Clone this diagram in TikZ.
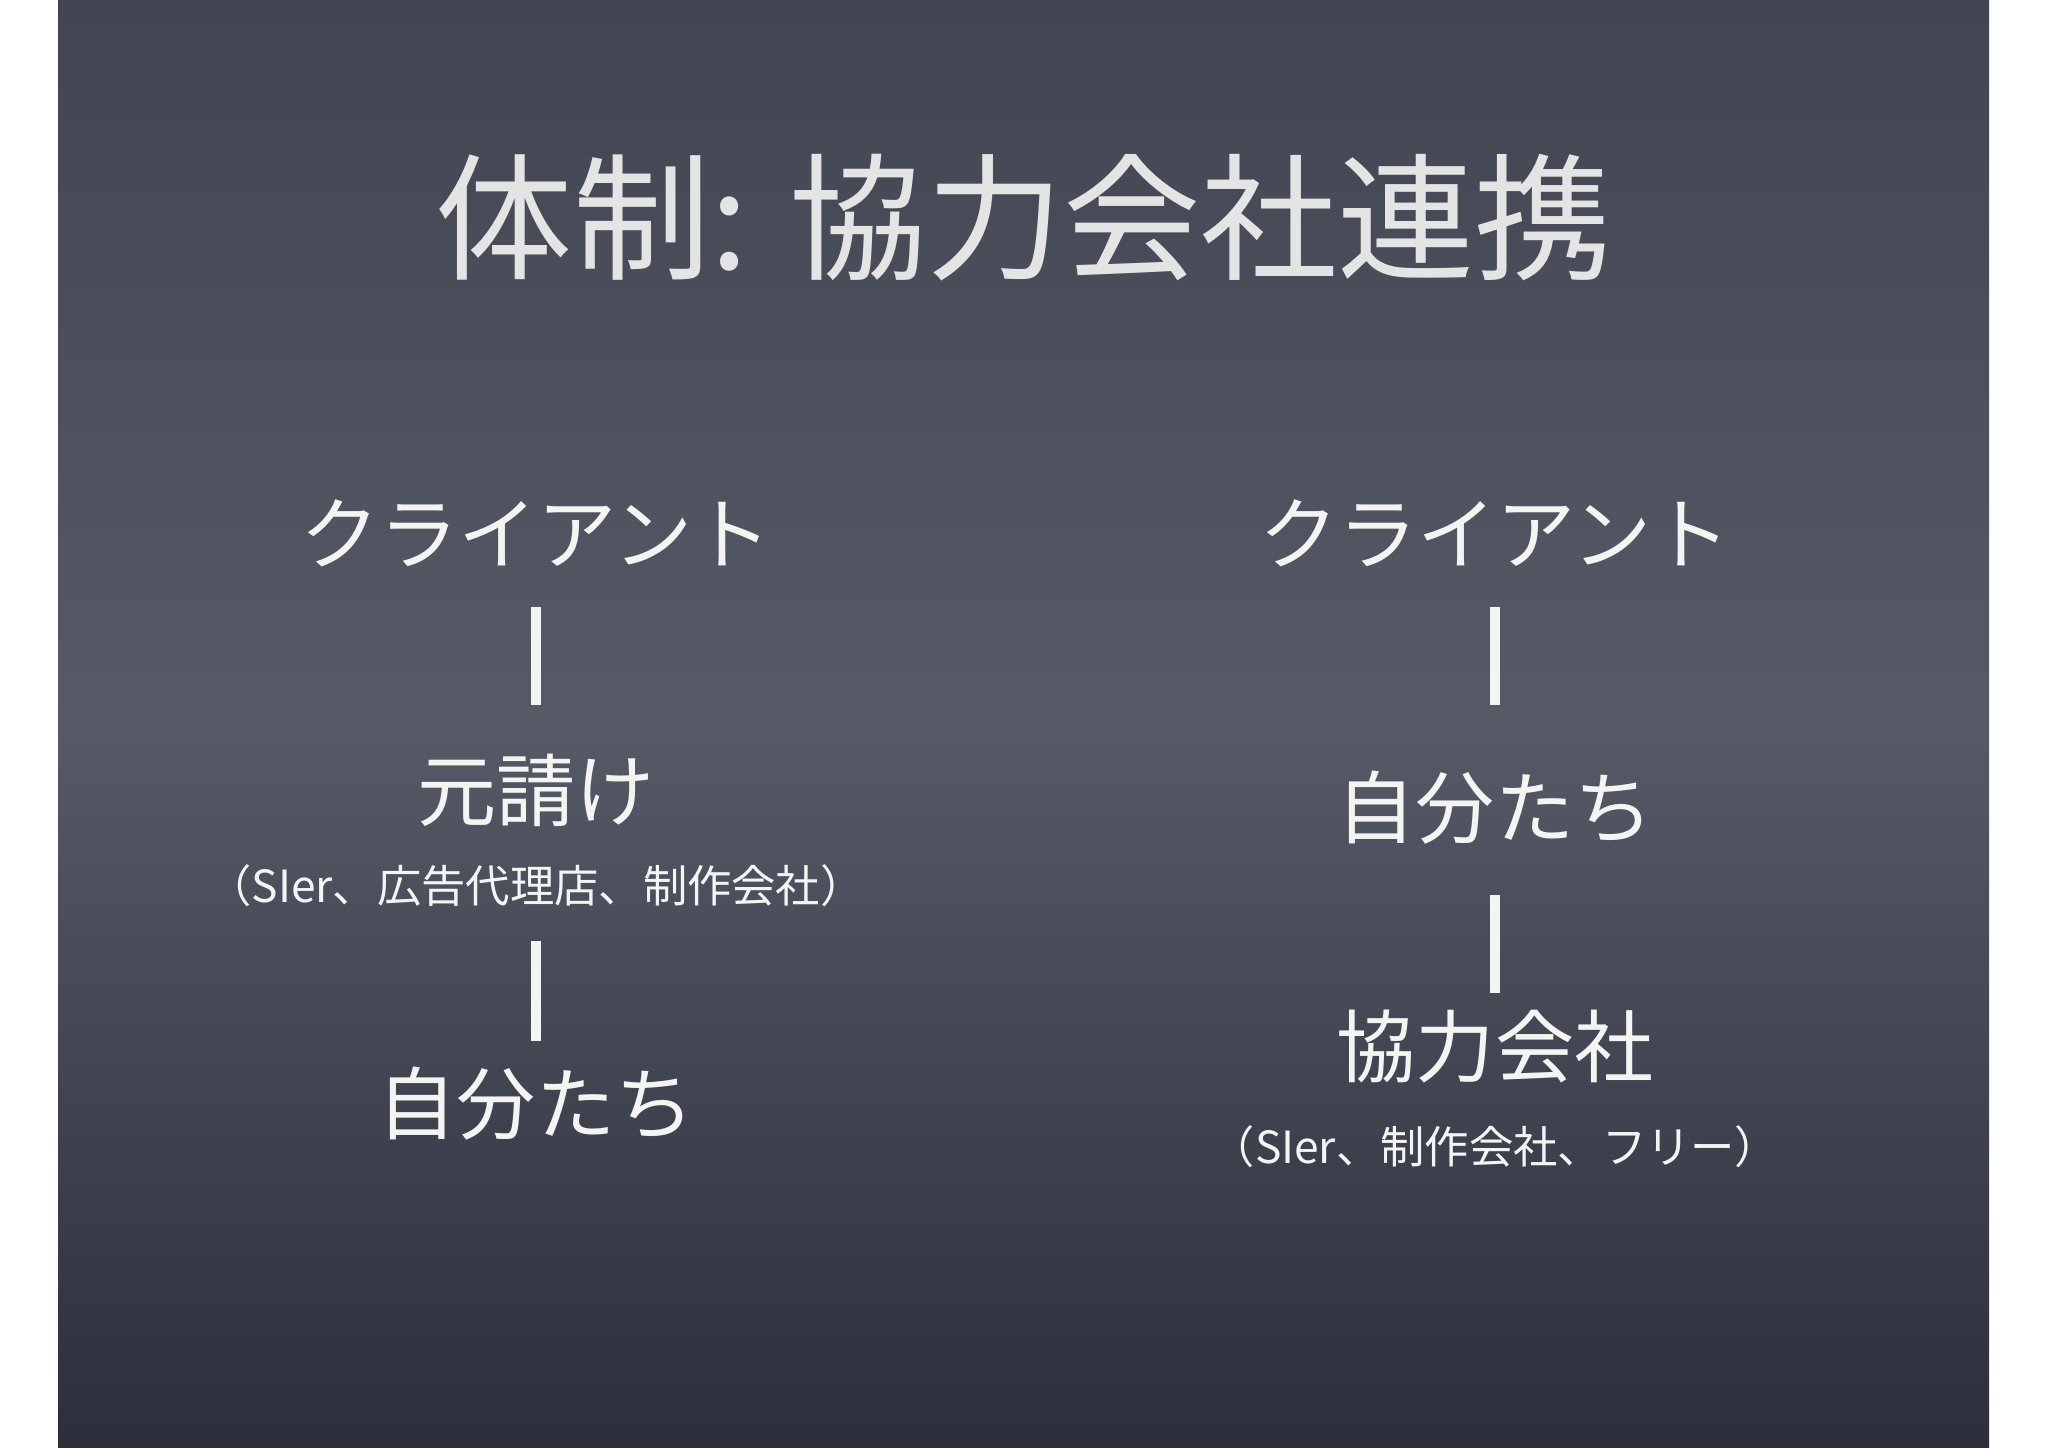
\documentclass[tikz,border=0pt]{standalone}
\usepackage{fontspec}
\setmainfont{Noto Sans CJK JP}
\usepackage{xcolor}
\definecolor{boardtop}{HTML}{414551}
\definecolor{boardmid}{HTML}{555A66}
\definecolor{boardbot}{HTML}{2C2F3B}
\definecolor{chalk}{HTML}{F4F4F2}
\definecolor{titlechalk}{HTML}{E4E4E4}
\usepackage{tikz}

\tikzset{
  big/.style={text=chalk, font=\fontsize{22.5}{27}\selectfont, inner sep=0},
  small/.style={text=chalk, font=\fontsize{12.6}{15}\selectfont, inner sep=0},
  bar/.style={draw=chalk, line width=2.8pt},
}

\begin{document}
\begin{tikzpicture}[x=0.01cm, y=-0.01cm]
    \useasboundingbox (0,0) rectangle (2048,1447);
    \shade[top color=boardtop, bottom color=boardbot, middle color=boardmid] (58,0) rectangle (1989,1447);

    %  title
    \node[text=titlechalk, font=\fontsize{39}{47}\selectfont, inner sep=0] (title) at (1024,218) {体制: 協力会社連携};

    %  left column
    \node[big] (clientL) at (536,533) {クライアント};
    \node[big] (prime) at (536,790) {元請け};
    \node[small] (primeNote) at (536,886) {（SIer、広告代理店、制作会社）};
    \node[big] (selfL) at (536,1104) {自分たち};
    \draw[bar, shorten <=0.74cm, shorten >=0.85cm] (clientL.center)
      -- (prime.center);
    \draw[bar, shorten <=0.55cm, shorten >=0.63cm] (primeNote.center)
      -- (selfL.center);

    %  right column
    \node[big] (clientR) at (1495,533) {クライアント};
    \node[big] (selfR) at (1495,808) {自分たち};
    \node[big] (partner) at (1495,1047) {協力会社};
    \node[small] (partnerNote) at (1495,1147) {（SIer、制作会社、フリー）};
    \draw[bar, shorten <=0.74cm, shorten >=1.03cm] (clientR.center)
      -- (selfR.center);
    \draw[bar, shorten <=0.87cm, shorten >=0.54cm] (selfR.center)
      -- (partner.center);
\end{tikzpicture}
\end{document}
